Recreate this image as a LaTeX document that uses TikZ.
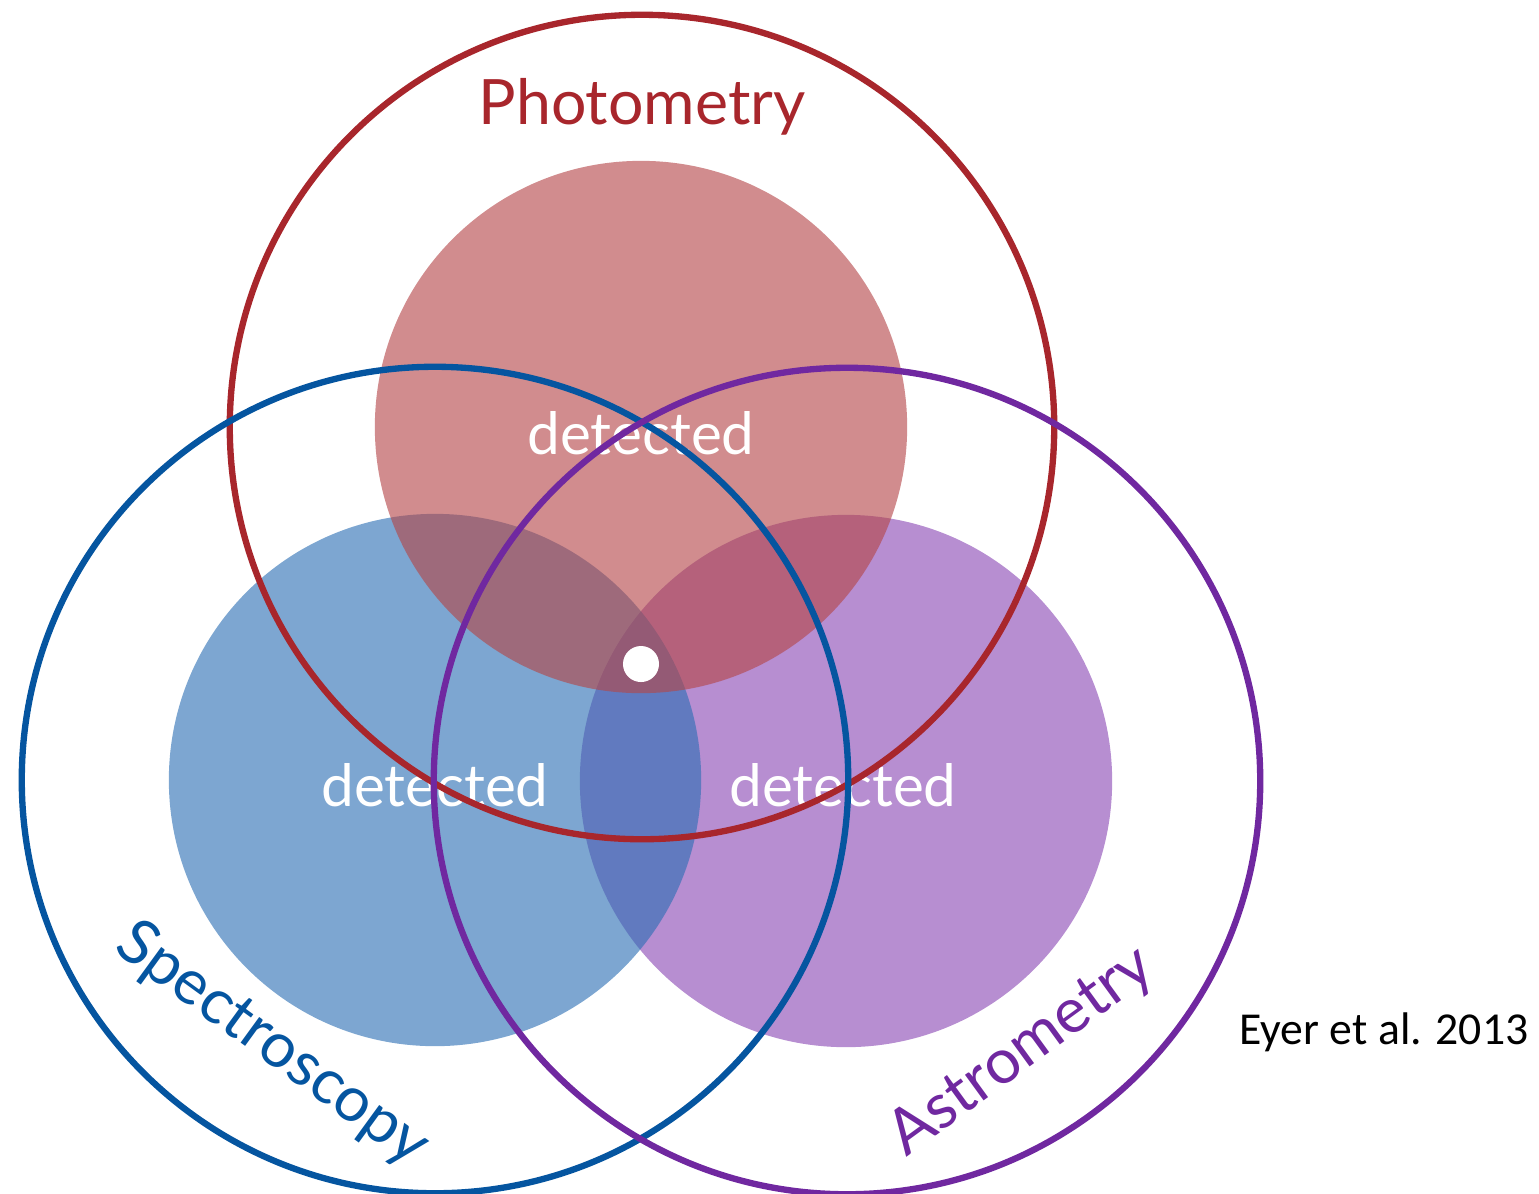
\documentclass[tikz,border=0pt]{standalone}
\usepackage{fontspec}
\setmainfont{Lato}
\newfontfamily\captionfont{Carlito}
\usetikzlibrary{positioning}
\definecolor{photRed}{RGB}{168,38,44}
\definecolor{specBlue}{RGB}{5,85,160}
\definecolor{astroPurple}{RGB}{112,40,160}
\definecolor{photFill}{RGB}{180,70,72}
\definecolor{specFill}{RGB}{45,112,180}
\definecolor{astroFill}{RGB}{138,72,180}

\begin{document}
\begin{tikzpicture}[x=0.01cm,y=-0.01cm,
  blob/.style={fill opacity=0.62},
  ring/.style={line width=1.8pt},
  tag/.style={font=\fontsize{17.8}{18}\selectfont,inner sep=0pt},
  det/.style={text=white,font=\fontsize{16.6}{17}\selectfont,inner sep=0pt}
]
  \useasboundingbox (0,0) rectangle (1539,1193);
  % detection areas
  \fill[blob,astroFill] (846,781) circle[radius=2.66cm];
  \fill[blob,specFill]  (435,780) circle[radius=2.66cm];
  \fill[blob,photFill]  (641,427) circle[radius=2.66cm];
  \fill[white] (641,664) circle[radius=0.18cm];
  \node[det] (detPhot)  at (641,433) {detected};
  \node[det] (detSpec)  at (435,785) {detected};
  \node[det] (detAstro) at (843,785) {detected};
  % technique circles
  \draw[ring,photRed]     (642,427) circle[radius=4.12cm];
  \draw[ring,specBlue]    (435,780) circle[radius=4.13cm];
  \draw[ring,astroPurple] (847,781) circle[radius=4.13cm];
  \node[tag,text=photRed]                (phot)  at (642,107)  {Photometry};
  \node[tag,text=specBlue,rotate=-36]    (spec)  at (272,1045) {Spectroscopy};
  \node[tag,text=astroPurple,rotate=36]  (astro) at (1022,1052) {Astrometry};
  \node[inner sep=0pt,font=\captionfont\fontsize{13}{13}\selectfont] (ref) at (1384,1032) {Eyer et al. 2013};
\end{tikzpicture}
\end{document}
